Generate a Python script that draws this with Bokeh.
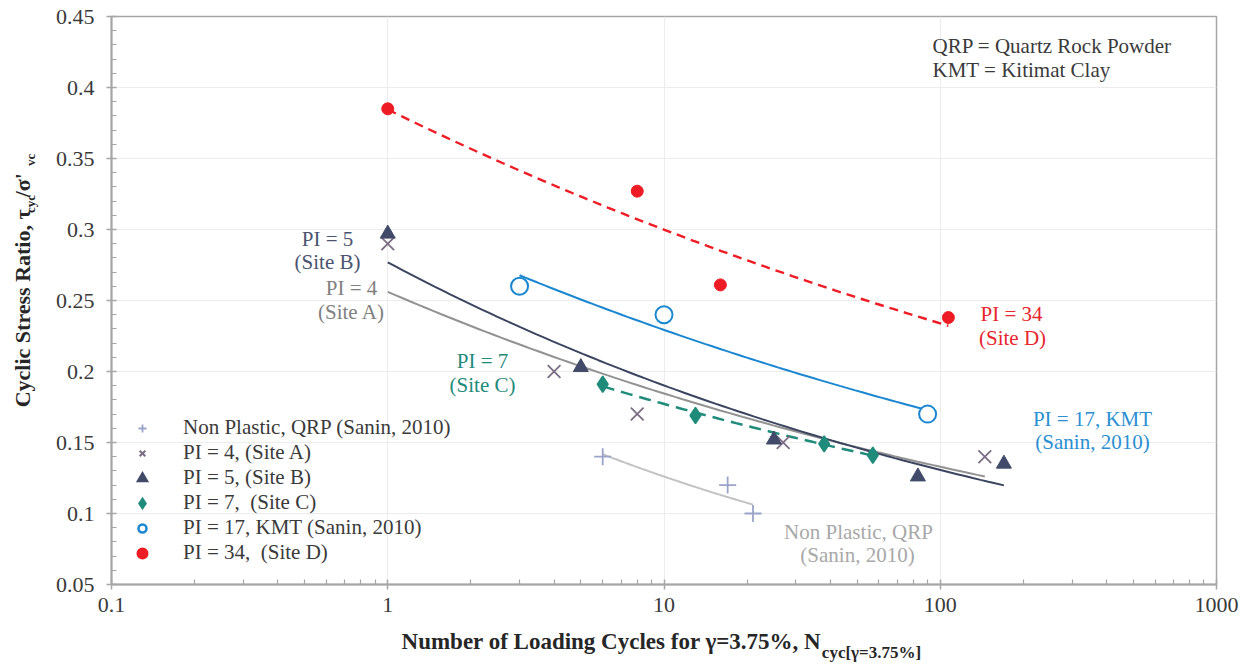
import numpy as np
from bokeh.plotting import figure
from bokeh.layouts import column, row
from bokeh.models import Label, Legend, LegendItem, FixedTicker
from bokeh.core.properties import value
from bokeh.embed import file_html
from bokeh.resources import INLINE

# Cyclic stress ratio vs. number of loading cycles to reach 3.75 % shear strain
qrp_n = [6, 17, 21]
qrp_csr = [0.140, 0.120, 0.100]

site_a_n = [1, 4, 8, 27, 145]
site_a_csr = [0.290, 0.200, 0.170, 0.150, 0.140]

site_b_n = [1, 5, 25, 83, 170]
site_b_csr = [0.297, 0.203, 0.152, 0.126, 0.135]

site_c_n = [6, 13, 38, 57]
site_c_csr = [0.191, 0.169, 0.149, 0.141]

kmt_n = [3, 10, 90]
kmt_csr = [0.260, 0.240, 0.170]

site_d_n = [1, 8, 16, 107]
site_d_csr = [0.385, 0.327, 0.261, 0.238]

legend_labels = [
    "Non Plastic, QRP (Sanin, 2010)",
    "PI = 4, (Site A)",
    "PI = 5, (Site B)",
    "PI = 7,  (Site C)",
    "PI = 17, KMT (Sanin, 2010)",
    "PI = 34,  (Site D)",
]

x_ticks = [0.1, 1, 10, 100, 1000]
x_tick_labels = ["0.1", "1", "10", "100", "1000"]
y_ticks = [0.05, 0.1, 0.15, 0.2, 0.25, 0.3, 0.35, 0.4, 0.45]
y_tick_labels = ["0.05", "0.1", "0.15", "0.2", "0.25", "0.3", "0.35", "0.4", "0.45"]

SERIF = "Liberation Serif"
TEXT = "#3a3a3a"
TITLE = "#262626"
AXIS = "#a6a6a6"

# series styles
C_QRP, C_QRP_LINE = "#9aa3c9", "#c3c3c3"
C_A, C_A_LINE = "#7b6e84", "#929292"
C_B = "#414b69"
C_C = "#1f8b7a"
C_KMT = "#1b87d0"
C_D = "#ed1c24"

# overall canvas split: narrow strip for the y title, the chart, strip for the x title
W, H = 1247, 665
YT_W = 45
XT_H = 35
MAIN_W, MAIN_H = W - YT_W, H - XT_H


def power_trend(n, csr):
    """Least-squares power-law trendline csr = a * n**b over the span of the data."""
    b, ln_a = np.polyfit(np.log(n), np.log(csr), 1)
    xs = np.logspace(np.log10(min(n)), np.log10(max(n)), 80)
    return xs, np.exp(ln_a) * xs ** b


p = figure(
    width=MAIN_W, height=MAIN_H,
    x_axis_type="log", x_range=(0.1, 1000), y_range=(0.05, 0.45),
    output_backend="svg", toolbar_location=None,
    min_border_left=111 - YT_W, min_border_right=31, min_border_top=16,
    min_border_bottom=MAIN_H - 584,
    background_fill_color="white", border_fill_color="white",
)
p.outline_line_color = AXIS
p.outline_line_width = 1.5

# ticks
x_minor = [m * 10.0 ** e for e in range(-1, 3) for m in range(2, 10)]
y_minor = [round(0.05 + 0.01 * i, 2) for i in range(41) if i % 5]
p.xaxis.ticker = FixedTicker(ticks=x_ticks, minor_ticks=x_minor)
p.yaxis.ticker = FixedTicker(ticks=y_ticks, minor_ticks=y_minor)
p.xaxis.major_label_overrides = dict(zip(x_ticks, x_tick_labels))
p.yaxis.major_label_overrides = dict(zip(y_ticks, y_tick_labels))

for ax in (p.xaxis[0], p.yaxis[0]):
    ax.axis_line_color = AXIS
    ax.axis_line_width = 2
    ax.major_tick_line_color = AXIS
    ax.major_tick_line_width = 1.5
    ax.minor_tick_line_color = AXIS
    ax.minor_tick_line_width = 1.2
    ax.major_tick_in = 5
    ax.major_tick_out = 5
    ax.minor_tick_in = 5
    ax.minor_tick_out = 0
    ax.major_label_text_font = SERIF
    ax.major_label_text_font_size = "22px"
    ax.major_label_text_color = TEXT
p.yaxis.major_label_standoff = 12
p.xaxis.major_label_standoff = 8

p.grid.grid_line_color = "#ececec"
p.grid.grid_line_width = 1

# trendlines
tx, ty = power_trend(qrp_n, qrp_csr)
p.line(tx, ty, line_color=C_QRP_LINE, line_width=2)
tx, ty = power_trend(site_a_n, site_a_csr)
p.line(tx, ty, line_color=C_A_LINE, line_width=2)
tx, ty = power_trend(site_b_n, site_b_csr)
p.line(tx, ty, line_color="#3b4560", line_width=2)
tx, ty = power_trend(site_c_n, site_c_csr)
p.line(tx, ty, line_color=C_C, line_width=2.5, line_dash="12 7")
tx, ty = power_trend(kmt_n, kmt_csr)
p.line(tx, ty, line_color=C_KMT, line_width=2)
tx, ty = power_trend(site_d_n, site_d_csr)
p.line(tx, ty, line_color="#ee1c24", line_width=2.4, line_dash="9 6")

# data points
p.scatter(qrp_n, qrp_csr, marker="cross", size=17, line_color=C_QRP, line_width=1.8)
p.scatter(site_a_n, site_a_csr, marker="x", size=18, line_color=C_A, line_width=1.8)
p.scatter(site_b_n, site_b_csr, marker="triangle", size=15,
          fill_color=C_B, line_color=C_B)
p.scatter(site_c_n, site_c_csr, marker="diamond", size=16,
          fill_color=C_C, line_color=C_C, line_width=1.5)
p.scatter(kmt_n, kmt_csr, marker="circle", size=17,
          fill_color="white", line_color=C_KMT, line_width=2)
p.scatter(site_d_n, site_d_csr, marker="circle", size=12,
          fill_color=C_D, line_color=C_D)

# legend swatches: off-plot (NaN) renderers with heavier outlines, since the
# legend draws markers at a fixed fraction of the 20 px row height
NA = [float("nan")]
swatches = [
    p.scatter(NA, NA, marker="cross", line_color=C_QRP, line_width=1.8),
    p.scatter(NA, NA, marker="x", line_color=C_A, line_width=2),
    p.scatter(NA, NA, marker="triangle", fill_color=C_B, line_color=C_B,
              line_width=3, line_join="miter"),
    p.scatter(NA, NA, marker="diamond", fill_color=C_C, line_color=C_C,
              line_width=3, line_join="miter"),
    p.scatter(NA, NA, marker="circle", fill_color="white", line_color=C_KMT,
              line_width=2.5),
    p.scatter(NA, NA, marker="circle", fill_color=C_D, line_color=C_D, line_width=4),
]
legend = Legend(
    items=[LegendItem(label=lab, renderers=[r]) for lab, r in zip(legend_labels, swatches)],
    location=(21, 19),
    padding=0, margin=0, spacing=0,
    glyph_width=20, glyph_height=20, label_height=20,
    label_standoff=31,
    label_text_font=SERIF, label_text_font_size="21px", label_text_color=TEXT,
    border_line_alpha=0, background_fill_alpha=0,
)
p.add_layout(legend, "center")


def note(text, cx, cy, color, align="center"):
    """Place a text note at canvas pixel (cx, cy), measured from the page top-left."""
    p.add_layout(Label(
        x=cx - 111, y=584 - cy, x_units="screen", y_units="screen", text=text,
        text_font=SERIF, text_font_size="21px", text_color=color,
        text_align=align, text_baseline="middle",
    ))


note("PI = 5", 327, 238, "#4a5470")
note("(Site B)", 327, 261, "#4a5470")
note("PI = 4", 351, 287, "#808080")
note("(Site A)", 351, 311, "#808080")
note("PI = 7", 482, 360, C_C)
note("(Site C)", 482, 384, C_C)
note("PI = 34", 1011, 313, "#e8262d")
note("(Site D)", 1012, 337, "#e8262d")
note("PI = 17, KMT", 1092, 418, "#2b8fd2")
note("(Sanin, 2010)", 1092, 441, "#2b8fd2")
note("Non Plastic, QRP", 858, 531, "#a8a8a8")
note("(Sanin, 2010)", 857, 554, "#a8a8a8")
note("QRP = Quartz Rock Powder", 932, 45, TEXT, align="left")
note("KMT = Kitimat Clay", 932, 69, TEXT, align="left")


def text_strip(width, height):
    """Blank figure whose data units equal pixels, used for the axis titles."""
    f = figure(width=width, height=height, x_range=(0, width), y_range=(0, height),
               min_border=0, toolbar_location=None, output_backend="svg",
               x_axis_location=None, y_axis_location=None,
               background_fill_color="white", border_fill_color="white")
    f.outline_line_color = None
    f.grid.visible = False
    return f


def title_piece(f, x, y, text, size, angle=0.0):
    """Bold title fragment centred on (x, y) in strip pixels (y measured upwards)."""
    f.text(x=[x], y=[y], text=[text], angle=angle,
           text_font=value(SERIF), text_font_size=f"{size}px", text_font_style="bold",
           text_color=TITLE, text_align="center", text_baseline="middle")


# y-axis title (reads upwards), with subscripts; the centre of rotated text
# sits half an em further along the reading direction, so compensate
yt = text_strip(YT_W, MAIN_H)
up = np.pi / 2
for cx, cy, txt, size in [(22, 312.7, "Cyclic Stress Ratio, \u03c4", 22),
                          (30, 201.4, "cyc", 13),
                          (22, 173, " /\u03c3'", 22),
                          (30, 152.5, "vc", 13)]:
    title_piece(yt, cx, MAIN_H - cy - 0.5 * size, txt, size, up)

# x-axis title, with subscript
xt = text_strip(W, XT_H)
title_piece(xt, 611, H - 641, "Number of Loading Cycles for \u03b3=3.75%, N", 23)
title_piece(xt, 871, H - 652, "cyc[\u03b3=3.75%]", 17)

page = column(row(yt, p), xt)
open("out.html", "w").write(file_html(page, INLINE))
